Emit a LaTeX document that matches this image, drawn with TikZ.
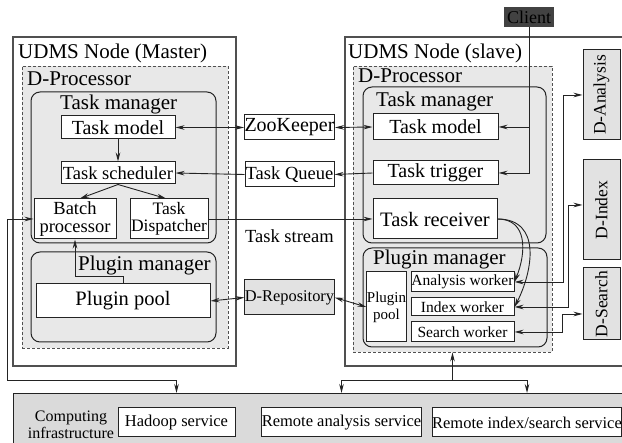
\documentclass[tikz,border=0pt]{standalone}
\usepackage{fontspec}
\setmainfont{Liberation Serif}
\usepackage{xcolor}
\usepackage{tikz}
\usetikzlibrary{arrows.meta, positioning, calc}
\definecolor{myline}{RGB}{35,35,35}
\definecolor{myframe}{RGB}{80,80,80}
\definecolor{myfill}{RGB}{232,232,232}
\definecolor{mygbox}{RGB}{226,226,226}
\definecolor{myinfra}{RGB}{218,218,218}
\definecolor{myclient}{RGB}{66,66,66}
\tikzset{
  hostbox/.style={rectangle, draw=myframe, fill=white, line width=1.2pt},
  procbox/.style={rectangle, draw=myframe, fill=myfill, dash pattern=on 3pt off 2pt, line width=0.9pt},
  mgrbox/.style={rectangle, draw=myline, fill=myfill, rounded corners=9pt, line width=1pt},
  block/.style={rectangle, draw=myline, fill=white, line width=1pt, inner sep=0pt,
    align=center, font=\fontsize{20}{16}\selectfont},
  smallblock/.style={rectangle, draw=myline, fill=white, line width=1pt, inner sep=0pt,
    align=center, font=\fontsize{15.5}{17}\selectfont},
  gblock/.style={rectangle, draw=myline, fill=mygbox, line width=1pt, inner sep=0pt,
    align=center, font=\fontsize{18.5}{20}\selectfont},
  infrablock/.style={rectangle, draw=myline, fill=white, line width=1pt, inner sep=0pt,
    align=center, font=\fontsize{16.5}{18}\selectfont},
  infra/.style={rectangle, draw=myline, fill=myinfra, line width=1pt},
  clientbox/.style={rectangle, fill=myclient, inner sep=0pt, font=\fontsize{18}{20}\selectfont},
  title/.style={anchor=base west, inner sep=0pt, font=\fontsize{21}{23}\selectfont},
  arrow/.style={-{Stealth[length=9pt, width=4.5pt]}, line width=0.9pt, draw=myline},
  biarrow/.style={{Stealth[length=9pt, width=4.5pt]}-{Stealth[length=9pt, width=4.5pt]},
    line width=0.9pt, draw=myline},
  line/.style={line width=0.9pt, draw=myline}
}

\begin{document}
\begin{tikzpicture}[x=1pt, y=-1pt]
  \useasboundingbox (0,0) rectangle (622,443);

  % Computing infrastructure
  \node[infra, anchor=north west, minimum width=615pt, minimum height=56pt] (infra) at (13,393) {};
  \node[align=center, inner sep=0pt, font=\fontsize{16}{16.5}\selectfont] (infraT) at (71,425) {Computing\\infrastructure};
  \node[infrablock, minimum width=117pt, minimum height=29pt] (hadoop) at (176.5,422.5) {Hadoop service};
  \node[infrablock, minimum width=157pt, minimum height=29pt] (ras) at (341.5,422.5) {Remote analysis service};
  \node[infrablock, minimum width=178pt, minimum height=29pt] (riss) at (527,422.5) {Remote index/search service};

  % UDMS nodes
  \node[hostbox, minimum width=223pt, minimum height=329pt] (master) at (124.5,201.5) {};
  \node[hostbox, minimum width=283pt, minimum height=329pt] (slave) at (486.5,201.5) {};
  \node[title] (masterT) at (18,59) {UDMS Node (Master)};
  \node[title] (slaveT) at (348,59) {UDMS Node (slave)};

  % D-Processors
  \node[procbox, minimum width=206pt, minimum height=282pt] (procM) at (125,207) {};
  \node[procbox, minimum width=199pt, minimum height=286pt] (procS) at (452.5,209) {};
  \node[title] (procMT) at (27,86) {D-Processor};
  \node[title] (procST) at (358,83) {D-Processor};

  % Managers
  \node[mgrbox, minimum width=185pt, minimum height=151pt] (tmgrM) at (123.5,167.5) {};
  \node[mgrbox, minimum width=185pt, minimum height=90pt] (pmgrM) at (123.5,297) {};
  \node[mgrbox, minimum width=183pt, minimum height=156pt] (tmgrS) at (454.5,165) {};
  \node[mgrbox, minimum width=184pt, minimum height=99pt] (pmgrS) at (455,297.5) {};
  \node[title] (tmgrMT) at (60,110) {Task manager};
  \node[title] (pmgrMT) at (78,271) {Plugin manager};
  \node[title] (tmgrST) at (376,107) {Task manager};
  \node[title] (pmgrST) at (373,265) {Plugin manager};

  % Master blocks
  \node[block, minimum width=114pt, minimum height=23pt] (modelM) at (118,127.5) {Task model};
  \node[block, minimum width=114pt, minimum height=22pt, font=\fontsize{18.5}{20}\selectfont] (sched) at (118,173) {Task scheduler};
  \node[block, minimum width=82pt, minimum height=40pt, font=\fontsize{18.5}{17.5}\selectfont] (batch) at (75,219) {Batch\\processor};
  \node[block, minimum width=78pt, minimum height=40pt, font=\fontsize{17.5}{17.5}\selectfont] (disp) at (169,219) {Task\\Dispatcher};
  \node[block, minimum width=174pt, minimum height=34pt, font=\fontsize{20.5}{22}\selectfont] (poolM) at (123,301) {Plugin pool};

  % Shared services
  \node[block, minimum width=89pt, minimum height=25pt] (zoo) at (289.5,127.5) {ZooKeeper};
  \node[block, minimum width=89pt, minimum height=25pt, font=\fontsize{18.5}{20}\selectfont] (queue) at (289.5,174.5) {Task Queue};
  \node[gblock, minimum width=89pt, minimum height=35pt, font=\fontsize{16.4}{18}\selectfont] (repo) at (289.5,297.5) {D-Repository};
  \node[title, font=\fontsize{18.5}{20}\selectfont] (streamT) at (245,243) {Task stream};

  % Slave blocks
  \node[block, minimum width=125pt, minimum height=26pt] (modelS) at (435.5,127) {Task model};
  \node[block, minimum width=125pt, minimum height=24pt] (trigger) at (435.5,173) {Task trigger};
  \node[block, minimum width=124pt, minimum height=40pt, font=\fontsize{20.5}{22}\selectfont] (recv) at (435,219) {Task receiver};
  \node[smallblock, minimum width=39pt, minimum height=70pt, font=\fontsize{15}{17}\selectfont] (poolS) at (386.5,307) {Plugin\\pool};
  \node[smallblock, minimum width=103pt, minimum height=20pt] (aworker) at (462.5,282) {Analysis worker};
  \node[smallblock, minimum width=103pt, minimum height=18pt] (iworker) at (462.5,307) {Index worker};
  \node[smallblock, minimum width=103pt, minimum height=20pt] (sworker) at (462.5,332) {Search worker};

  % Storage side
  \node[gblock, minimum width=37pt, minimum height=90pt, font=\fontsize{17.5}{19}\selectfont] (dana) at (601.5,95) {\rotatebox{90}{D-Analysis}};
  \node[gblock, minimum width=37pt, minimum height=100pt, font=\fontsize{17.5}{19}\selectfont] (dindex) at (601.5,210) {\rotatebox{90}{D-Index}};
  \node[gblock, minimum width=37pt, minimum height=72pt, font=\fontsize{17.5}{19}\selectfont] (dsearch) at (601.5,304) {\rotatebox{90}{D-Search}};

  % Client
  \node[clientbox, minimum width=50pt, minimum height=20pt] (client) at (529,17) {Client};

  % Coordination links
  \draw[biarrow] (modelM.east) -- (zoo.west);
  \draw[biarrow] (zoo.east) -- (modelS.west);
  \draw[arrow] (queue.west) -- (sched.east);
  \draw[arrow] (trigger.west) -- (queue.east);
  \draw[biarrow] (poolM.east) -- (repo.west);
  \draw[biarrow] (repo.east) -- (poolS.west);

  % Master task flow
  \draw[arrow] (modelM.south) -- (sched.north);
  \draw[arrow] (sched.south) -- ([xshift=5pt]batch.north);
  \draw[arrow] (sched.south) -- ([xshift=-3pt]disp.north);
  \draw[arrow] (poolM.north) -- ++(0,-7) -| (batch.south);
  \draw[arrow] (disp.east) -- (recv.west);

  % Client requests
  \draw[arrow] (client.south) |- (modelS.east);
  \draw[arrow] (client.south) |- (trigger.east);

  % Receiver to workers
  \draw[arrow] (recv.east) .. controls +(30,0) and +(12,-30) .. (aworker.east);
  \draw[arrow] (recv.east) .. controls +(45,0) and +(18,-35) .. (iworker.east);

  % Workers to storage
  \draw[biarrow] (aworker.east) -- ++(49,0) |- (dana.west);
  \draw[biarrow] (iworker.east) -- ++(54,0) |- ([yshift=5pt]dindex.west);
  \draw[biarrow] (sworker.east) -- ++(48,0) |- ([yshift=-10pt]dsearch.west);

  % Links to computing infrastructure
  \coordinate (lbus) at (7,380);
  \coordinate (rbus) at (452.5,380);
  \draw[biarrow] (batch.west) -| (lbus) -| (hadoop.north |- infra.north);
  \draw[arrow] (rbus) -- (procS.south);
  \draw[arrow] (rbus) -| (ras.north |- infra.north);
  \draw[arrow] (rbus) -| (riss.north |- infra.north);
\end{tikzpicture}
\end{document}
